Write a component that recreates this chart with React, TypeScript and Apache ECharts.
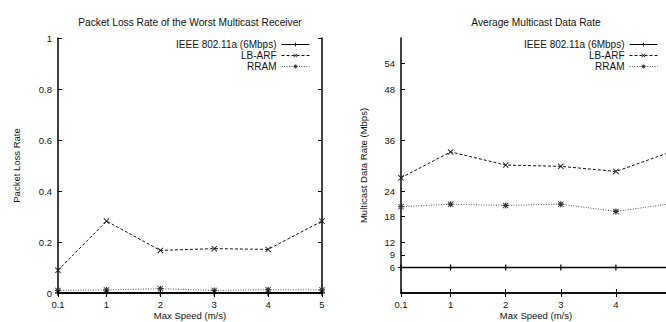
import React, { useEffect, useRef } from "react";
import * as echarts from "echarts";

const speeds = [0.1, 1, 2, 3, 4, 5];
const lossXLabels = [0.1, 1, 2, 3, 4, 5];
const rateXLabels = [0.1, 1, 2, 3, 4];
const seriesNames = ["IEEE 802.11a (6Mbps)", "LB-ARF", "RRAM"];
const lossIEEE = [0, 0, 0, 0, 0, 0];
const lossLBARF = [0.089, 0.282, 0.167, 0.174, 0.171, 0.282];
const lossRRAM = [0.01, 0.012, 0.017, 0.01, 0.013, 0.012];
const rateIEEE = [6, 6, 6, 6, 6, 6];
const rateLBARF = [27.1, 33.2, 30.1, 29.8, 28.6, 33.2];
const rateRRAM = [20.3, 20.9, 20.6, 20.9, 19.2, 21.0];
const lossTicks = [0, 0.2, 0.4, 0.6, 0.8, 1];
const rateTicks = [6, 9, 12, 18, 24, 36, 48, 54];
const titles = ["Packet Loss Rate of the Worst Multicast Receiver", "Average Multicast Data Rate"];
const xName = "Max Speed (m/s)";
const yNames = ["Packet Loss Rate", "Multicast Data Rate (Mbps)"];

const FONT = "Liberation Sans, Arial, Helvetica, sans-serif";
const TXT = "#111";

const PLUS = "path://M4,0H6V4H10V6H6V10H4V6H0V4H4Z";
const CROSS = "path://M0,1L1,0L5,4L9,0L10,1L6,5L10,9L9,10L5,6L1,10L0,9L4,5Z";
const STAR = "path://M0,1L1,0L5,4L9,0L10,1L6,5L10,9L9,10L5,6L1,10L0,9L4,5Z M4,0H6V10H4Z M0,4H10V6H0Z";

const pair = (vals: number[]) => speeds.map((s, i) => [s, vals[i]]);

export default function App() {
  const ref = useRef<HTMLDivElement>(null);
  useEffect(() => {
    if (!ref.current) return;
    const chart = echarts.init(ref.current, undefined, { renderer: "svg" });
    const grids = [
      { left: 58, top: 38, width: 264, height: 255, outerBoundsMode: "none", containLabel: false },
      { left: 401, top: 38, width: 270, height: 255, outerBoundsMode: "none", containLabel: false },
    ];
    const axisLine = { show: true, lineStyle: { color: "#000", width: 1.5 } };
    const xAxes: any[] = [];
    const yAxes: any[] = [];
    [0, 1].forEach((g) => {
      xAxes.push({
        type: "value",
        gridIndex: g,
        min: 0.1,
        max: 5,
        name: xName,
        nameLocation: "middle",
        nameGap: 17,
        nameMoveOverlap: false,
        nameTextStyle: { fontFamily: FONT, fontSize: 9.5, color: TXT, verticalAlign: "top" },
        axisLine,
        axisTick: { show: true, inside: true, length: 4, customValues: speeds, lineStyle: { color: "#000" } },
        axisLabel: { show: true, customValues: g === 0 ? lossXLabels : rateXLabels, margin: 6, fontFamily: FONT, fontSize: 9.5, color: TXT },
        splitLine: { show: false },
      });
      xAxes.push({
        type: "value",
        gridIndex: g,
        position: "top",
        min: 0.1,
        max: 5,
        axisLine,
        axisTick: { show: true, inside: true, length: 4, customValues: speeds, lineStyle: { color: "#000" } },
        axisLabel: { show: false },
        splitLine: { show: false },
      });
      const yTicks = g === 0 ? lossTicks : rateTicks;
      const yBase: any = {
        type: "value",
        gridIndex: g,
        min: 0,
        max: g === 0 ? 1 : 60,
        splitLine: { show: false },
        axisLine,
      };
      yAxes.push({
        ...yBase,
        name: yNames[g],
        nameLocation: "middle",
        nameGap: g === 0 ? 37 : 33,
        nameTextStyle: { fontFamily: FONT, fontSize: 9.5, color: TXT },
        axisTick: { show: true, inside: true, length: 4, customValues: yTicks, lineStyle: { color: "#000" } },
        axisLabel: { show: true, customValues: yTicks, margin: 6, fontFamily: FONT, fontSize: 9.5, color: TXT },
      });
      yAxes.push({
        ...yBase,
        position: "right",
        axisTick: { show: true, inside: true, length: 4, customValues: yTicks, lineStyle: { color: "#000" } },
        axisLabel: { show: false },
      });
    });

    const mk = (g: number, name: string, vals: number[], kind: number) => {
      const styles = [
        { symbol: PLUS, color: "#000", lineStyle: { color: "#000", width: 1.3, type: "solid" } },
        { symbol: CROSS, color: "#111", lineStyle: { color: "#111", width: 1, type: [3, 2] } },
        { symbol: STAR, color: "#333", lineStyle: { color: "#555", width: 1, type: [1, 1.5] } },
      ][kind];
      return {
        type: "line",
        name,
        xAxisIndex: g * 2,
        yAxisIndex: g * 2,
        data: pair(vals),
        symbol: styles.symbol,
        symbolSize: 6,
        showSymbol: true,
        itemStyle: { color: styles.color },
        lineStyle: styles.lineStyle,
        z: 3 - kind,
      };
    };

    const legendBase: any = {
      orient: "vertical",
      align: "right",
      data: seriesNames,
      itemWidth: 28,
      itemHeight: 5,
      itemGap: 0,
      top: 39,
      padding: 0,
      lineStyle: { width: 1 },
      textStyle: { fontFamily: FONT, fontSize: 10, color: TXT, lineHeight: 11 },
      selectedMode: false,
    };

    const titleStyle = { fontFamily: FONT, fontSize: 10.2, fontWeight: "normal", color: TXT };
    chart.setOption({
      animation: false,
      backgroundColor: "#fff",
      title: [
        { text: titles[0], left: 190, top: 17, padding: 0, textAlign: "center", textStyle: titleStyle },
        { text: titles[1], left: 536, top: 17, padding: 0, textAlign: "center", textStyle: titleStyle },
      ],
      legend: [
        { ...legendBase, right: 356 },
        { ...legendBase, right: 8 },
      ],
      grid: grids,
      xAxis: xAxes,
      yAxis: yAxes,
      series: [
        mk(0, seriesNames[0], lossIEEE, 0),
        mk(0, seriesNames[1], lossLBARF, 1),
        mk(0, seriesNames[2], lossRRAM, 2),
        mk(1, seriesNames[0], rateIEEE, 0),
        mk(1, seriesNames[1], rateLBARF, 1),
        mk(1, seriesNames[2], rateRRAM, 2),
      ],
    });
    return () => chart.dispose();
  }, []);
  return <div ref={ref} style={{ position: "fixed", left: 0, top: 0, width: 666, height: 322 }} />;
}
